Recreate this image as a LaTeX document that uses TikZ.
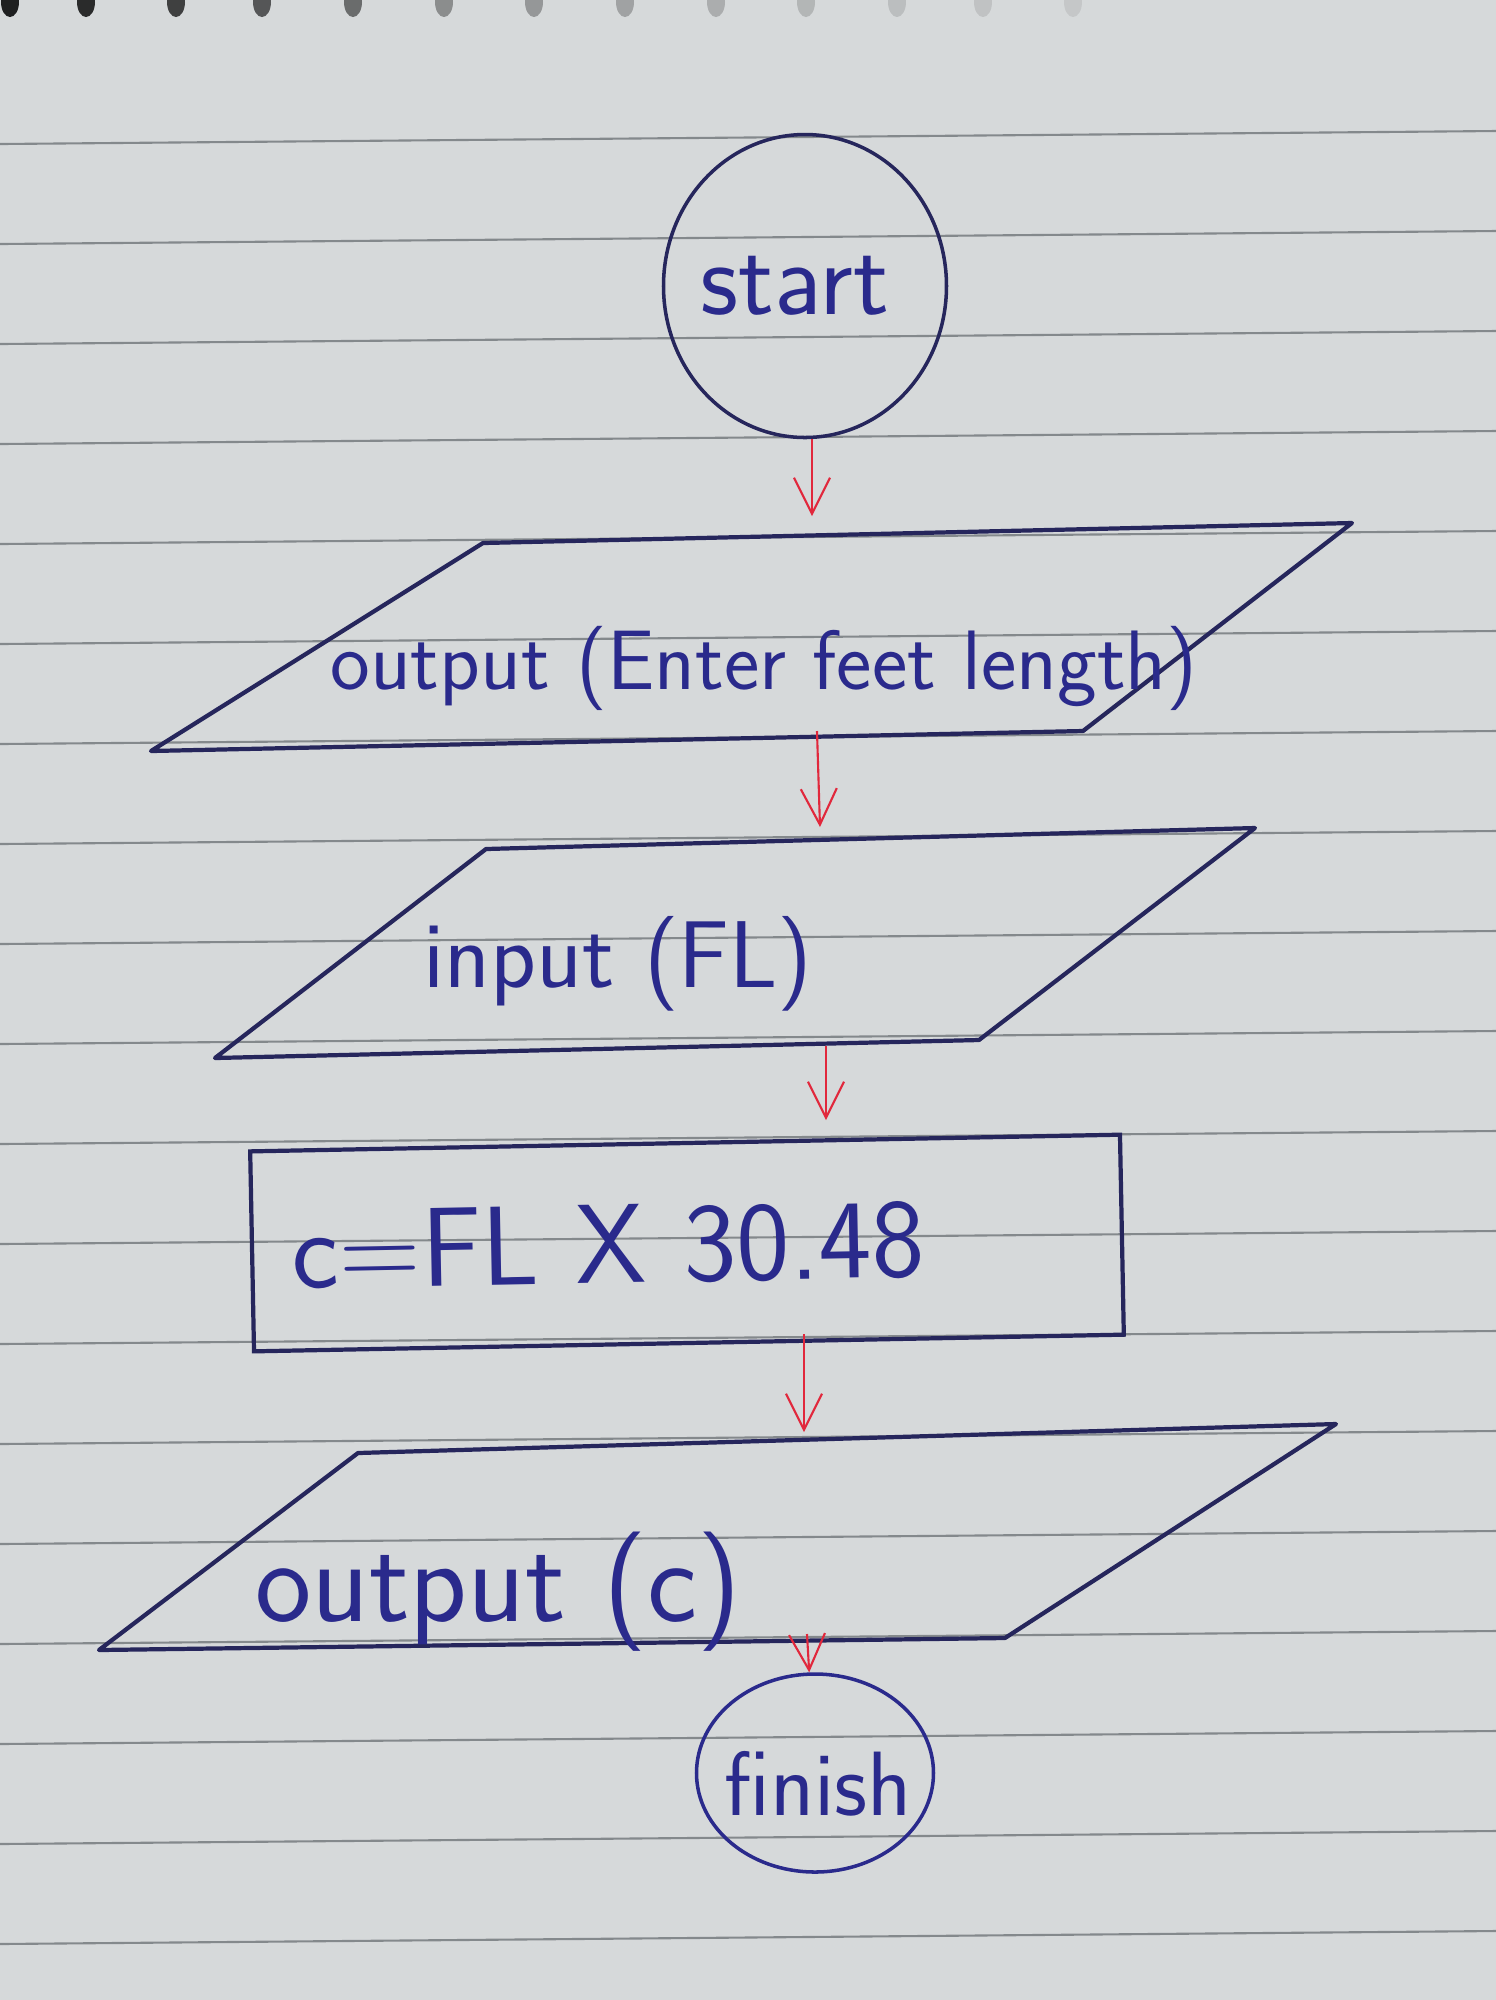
\documentclass[tikz,border=0pt]{standalone}
\usepackage{fontspec}
\usetikzlibrary{shapes.geometric,arrows.meta}
\definecolor{paper}{RGB}{214,217,218}
\definecolor{rule}{RGB}{132,137,140}
\definecolor{ink}{RGB}{38,38,92}
\definecolor{pen}{RGB}{42,42,140}
\definecolor{redpen}{RGB}{225,40,60}
\tikzset{
  >={Straight Barb[length=3.6mm,width=3.6mm]},
  terminal/.style={draw=ink,ellipse,line width=1pt,inner sep=0pt},
  termtext/.style={text=pen,inner sep=0pt,font=\sffamily\fontsize{30}{32}\selectfont},
  iobox/.style={draw=ink,line width=1.2pt,line join=round},
  iotext/.style={text=pen,inner sep=0pt},
  process/.style={draw=ink,line width=1.2pt,rectangle,minimum height=20mm,
    text width=79mm,inner xsep=4mm,align=left,text=pen,
    font=\sffamily\fontsize{32}{34}\selectfont},
  flow/.style={->,draw=redpen,line width=0.6pt}
}

\begin{document}
\begin{tikzpicture}[x=0.1mm,y=-0.1mm]
  % paper
  \useasboundingbox (0,0) rectangle (1496,2000);
  \fill[paper] (0,0) rectangle (1496,2000);
  \foreach \i in {0,...,18}
    \draw[rule,line width=0.6pt] (0,144+100*\i) -- (1496,131+100*\i);
  \foreach \hx/\op in {10/0.85,86/0.8,176/0.7,262/0.6,353/0.5,444/0.35,534/0.3,
      625/0.25,716/0.2,806/0.16,897/0.12,983/0.1,1073/0.08}
    \fill[black,opacity=\op] (\hx,2) ellipse [x radius=0.9mm,y radius=1.5mm];

  % shapes
  \node[terminal,minimum width=28.3mm,minimum height=30.3mm] (start) at (805,286) {};
  \node[termtext] (start-t) at (795,286) {start};

  \draw[iobox] (483,543) -- (1352,523) -- (1083,731) -- (151,751) -- cycle;
  \node[iotext,font=\sffamily\fontsize{24}{26}\selectfont] (out1) at (764,668) {output (Enter feet length)};

  \draw[iobox] (486,849) -- (1255,828) -- (979,1040) -- (215,1058) -- cycle;
  \node[iotext,font=\sffamily\fontsize{27}{29}\selectfont] (in) at (618,964) {input (FL)};

  \node[process,rotate=1.1] (calc) at (687,1243) {c=FL X 30.48};

  \draw[iobox] (358,1453) -- (1336,1424) -- (1005,1638) -- (99,1650) -- cycle;
  \node[iotext,font=\sffamily\fontsize{34}{36}\selectfont] (out2) at (498,1592) {output (c)};

  \node[terminal,draw=pen,minimum width=23.7mm,minimum height=19.8mm] (finish) at (815,1773) {};
  \node[termtext,font=\sffamily\fontsize{26}{28}\selectfont] (finish-t) at (818,1784) {finish};

  % arrow ends
  \coordinate (out1-n) at (812,516);
  \coordinate (out1-s) at (817,731);
  \coordinate (in-n) at (820,827);
  \coordinate (in-s) at (826,1046);
  \coordinate (calc-n) at (826,1120);
  \coordinate (calc-s) at (804,1334);
  \coordinate (out2-n) at (804,1432);
  \coordinate (out2-s) at (807,1634);

  % flow
  \draw[flow] (start.south -| out1-n) -- (out1-n);
  \draw[flow] (out1-s) -- (in-n);
  \draw[flow] (in-s) -- (calc-n);
  \draw[flow] (calc-s) -- (out2-n);
  \draw[flow] (out2-s) -- (finish);
\end{tikzpicture}
\end{document}
